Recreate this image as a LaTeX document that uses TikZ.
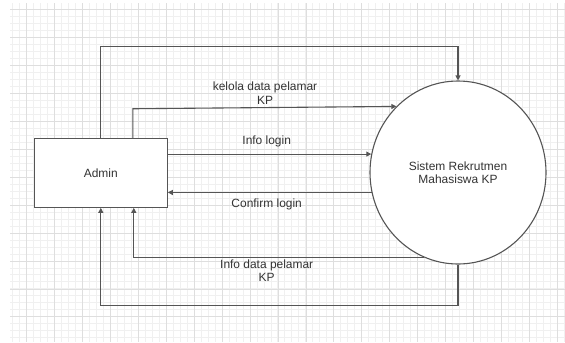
\documentclass[tikz,border=0pt]{standalone}
\usepackage{fontspec}
\setmainfont{Liberation Sans}
\usetikzlibrary{arrows.meta,shapes.geometric}
\definecolor{linec}{RGB}{85,85,85}
\definecolor{txtc}{RGB}{51,51,51}
\definecolor{gminor}{RGB}{240,240,240}
\definecolor{gmajor}{RGB}{222,222,222}
\begin{document}
\begin{tikzpicture}[x=1bp,y=-1bp,
  minorgrid/.style={draw=gminor,line width=0.9bp},
  majorgrid/.style={draw=gmajor,line width=0.9bp},
  conn/.style={draw=linec,line width=1.1bp},
  arr/.style={conn,-{Triangle[length=5bp,width=5bp]}},
  lbl/.style={text=txtc,font=\fontsize{12}{14}\selectfont,align=center,inner sep=0pt},
  entity/.style={draw=linec,line width=1.1bp,fill=white,rectangle,minimum width=133bp,minimum height=69bp,inner sep=0pt,text=txtc,font=\fontsize{12}{14}\selectfont},
  process/.style={draw=linec,line width=1.1bp,fill=white,ellipse,minimum width=176bp,minimum height=183bp,inner sep=0pt,text=txtc,font=\fontsize{12}{13}\selectfont,align=center}]
\useasboundingbox (0,0) rectangle (565,342);
\fill[white] (0,0) rectangle (565,342);
% grid
\foreach \i in {0,...,79} {\draw[minorgrid] ({12.7+6.98*\i},3) -- ({12.7+6.98*\i},342);}
\foreach \i in {0,...,47} {\draw[minorgrid] (10,{9.7+6.98*\i}) -- (565,{9.7+6.98*\i});}
\foreach \i in {0,...,19} {\draw[majorgrid] ({26.7+27.93*\i},3) -- ({26.7+27.93*\i},342);}
\foreach \i in {0,...,11} {\draw[majorgrid] (10,{9.7+27.93*\i}) -- (565,{9.7+27.93*\i});}
% nodes
\node[entity] (admin) at (100.8,172.8) {Admin};
\node[process] (sys) at (458,172.5) {Sistem Rekrutmen\\Mahasiswa KP};
\coordinate (top) at (280,46.7);
\coordinate (bot) at (280,305.7);
% connectors
\draw[arr] (admin.north) |- (top) -| (sys.north);
\draw[arr] (sys.south) |- (bot) -| (admin.south);
\draw[arr] ([xshift=32bp]admin.north) -- ++(0,-29) -- (sys.133);
\draw[arr] (admin.east |- sys.168.5) -- (sys.168.5);
\draw[arr] (sys.193) -- (admin.east |- sys.193);
\draw[arr] (sys.248) -| ([xshift=33bp]admin.south);
% labels
\node[lbl] (l1) at (265,93) {kelola data pelamar\\KP};
\node[lbl] (l2) at (266.7,141.7) {Info login};
\node[lbl] (l3) at (266.7,204) {Confirm login};
\node[lbl,font=\fontsize{12}{13}\selectfont] (l4) at (266.7,270.8) {Info data pelamar\\KP};
\end{tikzpicture}
\end{document}
